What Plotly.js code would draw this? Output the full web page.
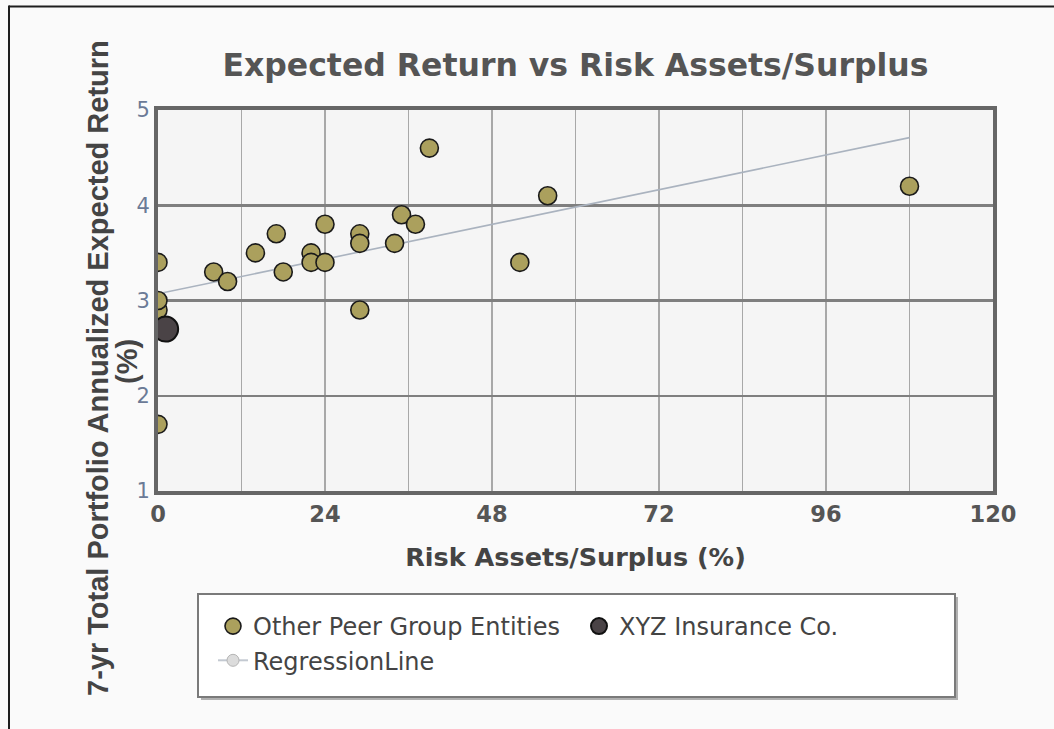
<!DOCTYPE html>
<html>
<head>
<meta charset="utf-8">
<script src="https://cdn.plot.ly/plotly-3.0.1.min.js"></script>
<style>
  html, body { margin: 0; padding: 0; background: #fafafa; }
  #chart { width: 1054px; height: 729px; }
</style>
</head>
<body>
<div id="chart"></div>
<script>
// ---- Data ----
const peerName = "Other Peer Group Entities";
const peerX = [0, 0, 0, 0, 8, 10, 14, 17, 18, 22, 22, 24, 24, 29, 29, 29, 34, 35, 37, 39, 52, 56, 108];
const peerY = [3.4, 2.9, 3.0, 1.7, 3.3, 3.2, 3.5, 3.7, 3.3, 3.5, 3.4, 3.8, 3.4, 3.7, 3.6, 2.9, 3.6, 3.9, 3.8, 4.6, 3.4, 4.1, 4.2];

const xyzName = "XYZ Insurance Co.";
const xyzX = [1.1];
const xyzY = [2.7];

const regName = "RegressionLine";
const regX = [0, 108];
const regY = [3.07, 4.71];

const xTickVals = [0, 24, 48, 72, 96, 120];
const xTickText = ["0", "24", "48", "72", "96", "120"];
const yTickVals = [1, 2, 3, 4, 5];
const yTickText = ["1", "2", "3", "4", "5"];

const chartTitle = "Expected Return vs Risk Assets/Surplus";
const xTitle = "Risk Assets/Surplus (%)";
const yTitleLines = ["7-yr Total Portfolio Annualized Expected Return", "(%)"];

// ---- Layout geometry (pixels) ----
const W = 1054, H = 729;
const M = { l: 158, r: 61, t: 110, b: 238 };
const PW = W - M.l - M.r, PH = H - M.t - M.b;
const px = x => (x - M.l) / PW;            // pixel x -> paper
const py = y => (H - M.b - y) / PH;        // pixel y -> paper

const traces = [
  {
    type: "scatter", mode: "lines", name: regName, x: regX, y: regY,
    line: { color: "#aab3bf", width: 1.6 }, showlegend: false, hoverinfo: "skip"
  },
  {
    type: "scatter", mode: "markers", name: peerName, x: peerX, y: peerY,
    marker: { color: "#aba05d", size: 18, line: { color: "#1a1a1a", width: 1.6 } },
    legendrank: 1
  },
  {
    type: "scatter", mode: "markers", name: xyzName, x: xyzX, y: xyzY,
    marker: { color: "#4a4346", size: 25, line: { color: "#111", width: 2 } },
    legendrank: 2
  },
  {
    // legend entry only for the regression line (line with light marker)
    type: "scatter", mode: "lines+markers", name: regName, x: [null], y: [null],
    line: { color: "#c3c9d1", width: 2 },
    marker: { color: "#dcdcdc", size: 12, line: { color: "#b5b5b5", width: 1 } },
    legendrank: 3
  }
];

const yTitleFont = { family: "Liberation Sans", size: 29, color: "#444444", weight: "bold" };

const layout = {
  width: W, height: H,
  margin: M,
  paper_bgcolor: "#fafafa",
  plot_bgcolor: "#f5f5f5",
  showlegend: true,
  title: {
    text: chartTitle,
    font: { family: "DejaVu Sans", size: 31.5, color: "#555555", weight: "bold" },
    x: 0.5, xref: "paper", xanchor: "center",
    y: 1 - 65 / H, yref: "container", yanchor: "middle"
  },
  xaxis: {
    range: [0, 120],
    tickmode: "array", tickvals: xTickVals, ticktext: xTickText,
    tickfont: { family: "DejaVu Sans", size: 22.5, color: "#555555", weight: "bold" },
    ticks: "", ticklabelstandoff: 0,
    showgrid: true, gridcolor: "#a8a8a8", gridwidth: 1.5,
    minor: { dtick: 12, tick0: 0, showgrid: true, gridcolor: "#a8a8a8", gridwidth: 1.5 },
    zeroline: false,
    showline: true, linecolor: "#666666", linewidth: 4, mirror: true,
    title: {
      text: xTitle, standoff: 23,
      font: { family: "DejaVu Sans", size: 25.5, color: "#444444", weight: "bold" }
    },
    fixedrange: true
  },
  yaxis: {
    range: [1, 5],
    tickmode: "array", tickvals: yTickVals, ticktext: yTickText,
    tickfont: { family: "DejaVu Sans", size: 21, color: "#6b7a96" },
    ticks: "",
    showgrid: true, gridcolor: "#7f7f7f", gridwidth: 2.5,
    zeroline: false,
    showline: true, linecolor: "#666666", linewidth: 4, mirror: true,
    fixedrange: true
  },
  legend: {
    orientation: "h",
    x: px(213), xanchor: "left",
    y: py(604), yanchor: "top",
    bgcolor: "rgba(0,0,0,0)", borderwidth: 0,
    font: { family: "DejaVu Sans", size: 24, color: "#444444" },
    entrywidth: 321, entrywidthmode: "pixels",
    itemsizing: "trace",
    tracegroupgap: 0
  },
  annotations: [
    {
      text: yTitleLines[0], textangle: -90, showarrow: false,
      xref: "paper", yref: "paper",
      x: px(98), y: py(368), xanchor: "center", yanchor: "middle",
      font: yTitleFont
    },
    {
      text: yTitleLines[1], textangle: -90, showarrow: false,
      xref: "paper", yref: "paper",
      x: px(127), y: py(362), xanchor: "center", yanchor: "middle",
      font: yTitleFont
    }
  ],
  shapes: [
    // outer frame: left and top lines
    { type: "line", xref: "paper", yref: "paper", x0: px(9), x1: px(9), y0: py(5.5), y1: py(H),
      line: { color: "#1e1e1e", width: 2 }, layer: "above" },
    { type: "line", xref: "paper", yref: "paper", x0: px(9), x1: px(W), y0: py(6.5), y1: py(6.5),
      line: { color: "#1e1e1e", width: 2 }, layer: "above" },
    // legend box shadow and box
    { type: "rect", xref: "paper", yref: "paper", x0: px(201), x1: px(958), y0: py(597), y1: py(700),
      fillcolor: "#b0b0b0", line: { width: 0 }, layer: "above" },
    { type: "rect", xref: "paper", yref: "paper", x0: px(198), x1: px(955), y0: py(594), y1: py(697),
      fillcolor: "#ffffff", line: { color: "#7a7a7a", width: 2 }, layer: "above" }
  ],
  hovermode: false
};

Plotly.newPlot("chart", traces, layout, { staticPlot: true, displayModeBar: false });
</script>
</body>
</html>
